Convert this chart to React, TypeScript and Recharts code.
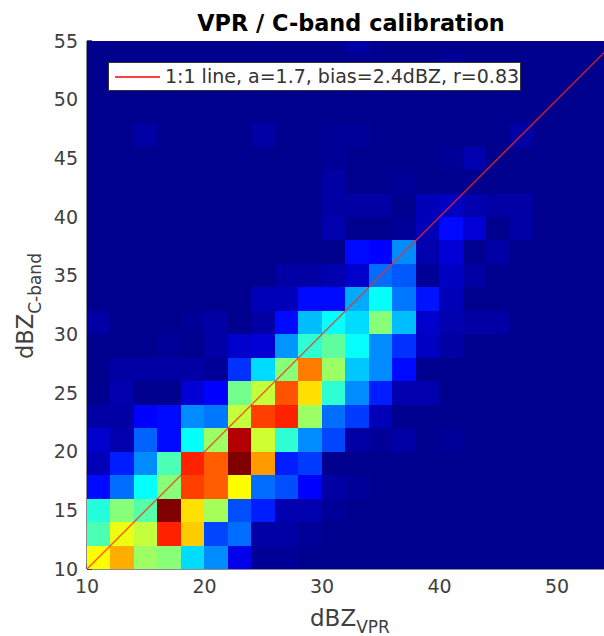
import { ScatterChart, Scatter, XAxis, YAxis, ZAxis, CartesianGrid } from 'recharts';

const FONT = '"DejaVu Sans", sans-serif';

// bin edges (lower edge of each 2 dBZ bin)
const vprBins = [10, 12, 14, 16, 18, 20, 22, 24, 26, 28, 30, 32, 34, 36, 38, 40, 42, 44, 46, 48, 50, 52];
const cBandBins = [10, 12, 14, 16, 18, 20, 22, 24, 26, 28, 30, 32, 34, 36, 38, 40, 42, 44, 46, 48, 50, 52, 54];

// colour level (0-100) per bin; one row per C-band bin
const row10 = [62, 70, 52, 50, 33, 25, 9, 1, 1, 0, 0, 0, 0, 0, 0, 0, 0, 0, 0, 0, 0, 0];
const row12 = [44, 60, 56, 84, 67, 18, 22, 2, 2, 1, 0, 0, 0, 0, 0, 0, 0, 0, 0, 0, 0, 0];
const row14 = [40, 50, 45, 100, 65, 53, 19, 14, 3, 3, 1, 0, 0, 0, 0, 0, 0, 0, 0, 0, 0, 0];
const row16 = [12, 22, 37, 50, 81, 78, 62, 22, 19, 11, 2, 1, 0, 0, 0, 0, 0, 0, 0, 0, 0, 0];
const row18 = [4, 14, 25, 44, 84, 78, 100, 72, 14, 17, 0, 0, 0, 0, 0, 0, 0, 0, 0, 0, 0, 0];
const row20 = [6, 3, 21, 12, 37, 52, 95, 57, 41, 25, 18, 2, 1, 2, 0, 1, 0, 0, 0, 0, 0, 0];
const row22 = [2, 2, 11, 12, 25, 23, 56, 81, 84, 52, 22, 17, 4, 0, 0, 0, 0, 0, 0, 0, 0, 0];
const row24 = [0, 3, 0, 0, 7, 11, 48, 56, 79, 65, 41, 25, 14, 3, 3, 0, 0, 0, 0, 0, 0, 0];
const row26 = [0, 2, 2, 2, 2, 1, 16, 33, 50, 75, 52, 31, 25, 12, 0, 0, 0, 0, 0, 0, 0, 0];
const row28 = [0, 0, 0, 1, 0, 2, 6, 7, 26, 41, 46, 37, 25, 16, 5, 2, 0, 0, 0, 0, 0, 0];
const row30 = [2, 0, 0, 0, 1, 2, 0, 2, 12, 30, 37, 33, 50, 30, 6, 3, 2, 2, 0, 0, 0, 0];
const row32 = [0, 0, 0, 0, 0, 0, 0, 4, 4, 12, 12, 28, 37, 23, 13, 4, 0, 0, 0, 0, 0, 0];
const row34 = [0, 0, 0, 0, 0, 0, 0, 0, 2, 2, 3, 6, 22, 20, 1, 5, 2, 0, 0, 0, 0, 0];
const row36 = [0, 0, 0, 0, 0, 0, 0, 0, 0, 0, 0, 12, 11, 25, 3, 7, 0, 2, 0, 0, 0, 0];
const row38 = [0, 0, 0, 0, 0, 0, 0, 0, 0, 0, 3, 0, 0, 1, 4, 12, 7, 0, 2, 0, 0, 0];
const row40 = [0, 0, 0, 0, 0, 0, 0, 0, 0, 0, 2, 2, 2, 0, 4, 5, 3, 2, 2, 0, 0, 0];
const row42 = [0, 0, 0, 0, 0, 0, 0, 0, 0, 0, 2, 0, 0, 1, 0, 0, 0, 0, 0, 0, 0, 0];
const row44 = [0, 0, 0, 0, 0, 0, 0, 0, 0, 0, 1, 0, 0, 0, 0, 1, 3, 0, 0, 0, 0, 0];
const row46 = [0, 0, 2, 0, 0, 0, 0, 2, 0, 0, 1, 1, 0, 0, 0, 0, 0, 0, 2, 0, 0, 0];
const row48 = [0, 0, 0, 0, 0, 0, 0, 0, 0, 0, 0, 0, 0, 0, 0, 0, 0, 0, 0, 0, 0, 0];
const row50 = [0, 0, 0, 0, 0, 0, 0, 0, 0, 0, 0, 0, 0, 0, 0, 0, 0, 0, 0, 0, 0, 0];
const row52 = [0, 0, 0, 0, 0, 0, 0, 0, 0, 0, 0, 0, 0, 0, 0, 1, 0, 0, 0, 0, 0, 0];
const row54 = [0, 0, 0, 0, 0, 0, 0, 0, 0, 0, 0, 2, 0, 0, 0, 0, 0, 0, 0, 0, 0, 0];

const rows = [row10, row12, row14, row16, row18, row20, row22, row24, row26, row28, row30, row32, row34, row36, row38, row40, row42, row44, row46, row48, row50, row52, row54];

const lineEnds = [10, 54];
const xTicks = [10, 20, 30, 40, 50];
const yTicks = [10, 15, 20, 25, 30, 35, 40, 45, 50, 55];

const cells = rows.flatMap((row, j) =>
  row.map((level, i) => ({ x: vprBins[i] + 1, y: cBandBins[j] + 1, level }))
);
const oneToOne = lineEnds.map((v) => ({ x: v, y: v }));

// MATLAB jet(64)
function jet(level: number) {
  const t = 1 / 64 + (level / 100) * (63 / 64);
  const ch = (a: number, b: number) =>
    Math.round(Math.max(0, Math.min(1, Math.min(4 * t + a, -4 * t + b))) * 255);
  return `rgb(${ch(-1.5, 4.5)},${ch(-0.5, 3.5)},${ch(0.5, 2.5)})`;
}

function HeatCell(props: any) {
  return (
    <rect
      x={props.x}
      y={props.y}
      width={props.width}
      height={props.height}
      fill={jet(props.payload.level)}
      shapeRendering="crispEdges"
    />
  );
}

const NoDot = () => null;

export default function App() {
  return (
    <div style={{ position: 'absolute', left: 0, top: 0, width: 604, height: 636, overflow: 'hidden' }}>
      <ScatterChart width={604} height={636} margin={{ top: 41, right: 0, bottom: 0, left: 0 }}>
        <CartesianGrid horizontal={false} vertical={false} fill="#00008f" />
        <XAxis
          xAxisId="bottom"
          type="number"
          dataKey="x"
          domain={[10, 54]}
          ticks={xTicks}
          interval={0}
          allowDataOverflow
          height={67}
          tickSize={-5}
          tickMargin={16}
          stroke="#666"
          strokeWidth={1.5}
          tickLine={{ stroke: '#262626' }}
          tick={{ fill: '#404040', fontSize: 19, fontFamily: FONT }}
        />
        <XAxis
          xAxisId="top"
          orientation="top"
          type="number"
          dataKey="x"
          domain={[10, 54]}
          ticks={xTicks}
          interval={0}
          allowDataOverflow
          height={0}
          tickSize={-5}
          tickMargin={0}
          stroke="#aaa"
          tickLine={{ stroke: '#262626' }}
          tick={false}
        />
        <YAxis
          type="number"
          dataKey="y"
          domain={[10, 55]}
          ticks={yTicks}
          interval={0}
          allowDataOverflow
          width={87}
          tickSize={-5}
          tickMargin={14}
          stroke="#666"
          strokeWidth={1.5}
          tickLine={{ stroke: '#262626' }}
          tick={{ fill: '#404040', fontSize: 19, fontFamily: FONT }}
        />
        <ZAxis dataKey="level" range={[434, 434]} />
        <Scatter xAxisId="bottom" data={cells} shape={HeatCell} isAnimationActive={false} />
        <Scatter
          xAxisId="bottom"
          data={oneToOne}
          line={{ stroke: '#ff2a1a', strokeWidth: 1.5, strokeOpacity: 0.75 }}
          stroke="#ff2a1a"
          fill="#ff2a1a"
          shape={NoDot}
          isAnimationActive={false}
        />
        <text x={351} y={31} textAnchor="middle" fontFamily={FONT} fontWeight="bold" fontSize={22.4} fill="#000">
          VPR / C-band calibration
        </text>
        <text x={310} y={626} fontFamily={FONT} fontSize={23} fill="#404040">
          dBZ
          <tspan fontSize={17} dy={7}>VPR</tspan>
        </text>
        <text transform="translate(33,359) rotate(-90)" fontFamily={FONT} fontSize={22.5} fill="#404040">
          dBZ
          <tspan fontSize={17} dy={8}>C-band</tspan>
        </text>
      </ScatterChart>
      {/* legend sits above the heatmap, so it is a plain overlay */}
      <div
        style={{
          position: 'absolute', left: 108, top: 62, width: 411, height: 27,
          background: '#fff', border: '1px solid #333', fontFamily: FONT, fontSize: 19,
          color: '#333', lineHeight: '27px', whiteSpace: 'nowrap',
        }}
      >
        <span style={{ position: 'absolute', left: 6, top: 13, width: 45, height: 1.5, background: '#ff4040' }} />
        <span style={{ position: 'absolute', left: 56, top: 0 }}>1:1 line, a=1.7, bias=2.4dBZ, r=0.83</span>
      </div>
    </div>
  );
}
